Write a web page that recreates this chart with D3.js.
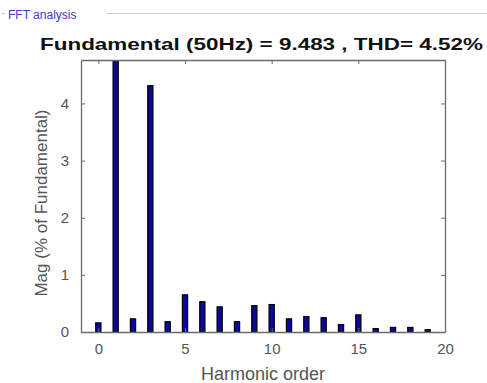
<!DOCTYPE html>
<meta charset="utf-8">
<title>FFT analysis</title>
<style>
  body { margin: 0; background: #fff; font-family: Arial, "Liberation Sans", sans-serif; }
  .axis path, .axis line { stroke: #6b6b6b; }
  .axis text { fill: #555; font-size: 15px; font-family: Arial, "Liberation Sans", sans-serif; }
</style>
<body>
<script src="https://cdn.jsdelivr.net/npm/d3@7"></script>
<script>
  // harmonic order and magnitude (% of fundamental); fundamental is 100% and runs off the top
  var orders = [0, 1, 2, 3, 4, 5, 6, 7, 8, 9, 10, 11, 12, 13, 14, 15, 16, 17, 18, 19];
  var mags = [0.16, 100, 0.23, 4.31, 0.18, 0.65, 0.53, 0.44, 0.18, 0.46, 0.48, 0.23, 0.27, 0.25, 0.13, 0.30, 0.06, 0.08, 0.08, 0.04];
  var xTicks = [0, 5, 10, 15, 20];
  var yTicks = [0, 1, 2, 3, 4];
  var title = "Fundamental (50Hz) = 9.483 , THD= 4.52%";

  var W = 487, H = 383;
  var margin = {top: 60, right: 42, bottom: 51, left: 81},
      width = W - margin.left - margin.right,
      height = H - margin.top - margin.bottom;

  var svg = d3.select("body").append("svg")
      .attr("width", W)
      .attr("height", H);

  // group box header
  svg.append("text")
      .attr("x", 8).attr("y", 19)
      .style("font-size", "12px")
      .style("fill", "#3a3ad0")
      .text("FFT analysis");
  svg.append("line")
      .attr("x1", 107).attr("x2", W).attr("y1", 13.5).attr("y2", 13.5)
      .style("stroke", "#c8c8c8");
  svg.append("line")
      .attr("x1", 2).attr("x2", 5).attr("y1", 13.5).attr("y2", 13.5)
      .style("stroke", "#c8c8c8");

  svg.append("text")
      .attr("x", 40).attr("y", 50)
      .attr("textLength", 443)
      .attr("lengthAdjust", "spacingAndGlyphs")
      .style("font-size", "17px")
      .style("font-weight", "bold")
      .style("fill", "#111")
      .text(title);

  var x = d3.scaleLinear().domain([-1, 20]).range([0, width]);
  var y = d3.scaleLinear().domain([0, 4.76]).range([height, 0]);

  var g = svg.append("g")
      .attr("transform", "translate(" + margin.left + "," + margin.top + ")");

  g.append("clipPath").attr("id", "clip")
    .append("rect").attr("width", width).attr("height", height);

  var bw = 0.3 * (x(1) - x(0));
  g.append("g").attr("clip-path", "url(#clip)")
    .selectAll("rect")
    .data(orders)
    .enter().append("rect")
      .attr("x", function(d) { return x(d) - bw / 2; })
      .attr("y", function(d, i) { return y(mags[i]); })
      .attr("width", bw)
      .attr("height", function(d, i) { return height - y(mags[i]); })
      .style("fill", "#0a0a9a")
      .style("stroke", "#000")
      .style("stroke-width", 1.2);

  // box with inward ticks on every side
  g.append("g").attr("class", "axis")
      .attr("transform", "translate(0," + height + ")")
      .call(d3.axisBottom(x).tickValues(xTicks).tickSizeInner(-4).tickSizeOuter(0).tickPadding(11));
  g.append("g").attr("class", "axis")
      .call(d3.axisTop(x).tickValues(xTicks).tickSizeInner(-4).tickSizeOuter(0).tickFormat(""));
  g.append("g").attr("class", "axis")
      .call(d3.axisLeft(y).tickValues(yTicks).tickFormat(d3.format("d"))
        .tickSizeInner(-4).tickSizeOuter(0).tickPadding(12));
  g.append("g").attr("class", "axis")
      .attr("transform", "translate(" + width + ",0)")
      .call(d3.axisRight(y).tickValues(yTicks).tickSizeInner(-4).tickSizeOuter(0).tickFormat(""));
  g.selectAll(".axis .domain").style("stroke-width", 1.3);

  svg.append("text")
      .attr("x", margin.left + width / 2).attr("y", 380)
      .attr("text-anchor", "middle")
      .style("font-size", "18px")
      .style("fill", "#555")
      .text("Harmonic order");

  svg.append("text")
      .attr("transform", "translate(47,203) rotate(-90)")
      .attr("text-anchor", "middle")
      .style("font-size", "17px")
      .style("fill", "#555")
      .text("Mag (% of Fundamental)");
</script>
</body>
